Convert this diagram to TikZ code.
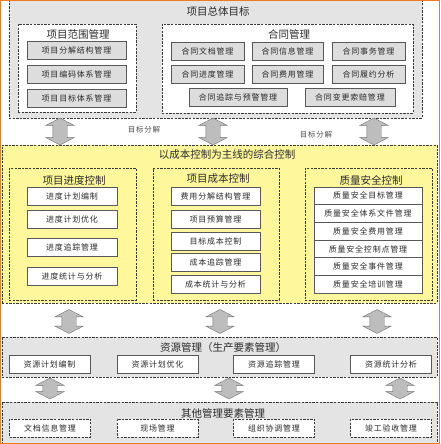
\documentclass[tikz,border=0pt]{standalone}
\usepackage{fontspec}
\setmainfont{Noto Sans CJK SC}
\newfontfamily\boxfont[LetterSpace=10]{Noto Sans CJK SC}
\usetikzlibrary{positioning,shapes.arrows}
\definecolor{bandgray}{HTML}{E4E4E4}
\definecolor{bandyellow}{HTML}{FFF79C}
\definecolor{boxgray}{HTML}{DDDDDD}
\definecolor{linedark}{HTML}{3A3A3A}
\definecolor{arrowgray}{HTML}{BDBDBD}
\definecolor{frameorange}{HTML}{F07A1E}
\definecolor{txtdark}{HTML}{2B2B2B}

\begin{document}
\begin{tikzpicture}[x=1pt, y=-1pt,
    every node/.style={text=txtdark, inner sep=0pt},
    band/.style={draw=linedark, line width=0.9pt, dash pattern=on 2.4pt off 1.2pt},
    grp/.style={band, fill=white},
    ttl/.style={font=\fontsize{10.5}{12}\selectfont},
    gbox/.style={draw=linedark!85, line width=0.9pt, fill=boxgray,
                 minimum height=18, font=\boxfont\fontsize{8}{10}\selectfont},
    wbox/.style={draw=linedark!85, line width=0.8pt, fill=white,
                 minimum height=18, font=\boxfont\fontsize{8}{10}\selectfont},
    dbox/.style={grp, minimum height=18, font=\boxfont\fontsize{8}{10}\selectfont},
    updown/.style={double arrow, rotate=90, fill=arrowgray, draw=black!55,
                   inner xsep=0pt, inner ysep=7pt, double arrow head extend=7pt,
                   double arrow tip angle=125, minimum width=28}
  ]
  \useasboundingbox (0,0) rectangle (440,444);

  % Bands
  \node[band, fill=bandgray, minimum width=413, minimum height=118] (goal) at (215.5,59) {};
  \node[band, fill=bandyellow, minimum width=435, minimum height=158] (ctrl) at (219.5,224) {};
  \node[band, fill=bandgray, minimum width=435, minimum height=40] (res) at (219.5,357) {};
  \node[band, fill=bandgray, minimum width=435, minimum height=44] (oth) at (219.5,424) {};

  \node[ttl] (goalt) at (218,12) {项目总体目标};
  \node[ttl] (ctrlt) at (227,155) {以成本控制为主线的综合控制};
  \node[ttl] (rest) at (223,348) {资源管理（生产要素管理）};
  \node[ttl] (otht) at (223,413) {其他管理要素管理};

  % Project scope
  \node[grp, minimum width=118, minimum height=88] (scp) at (77,68) {};
  \node[ttl] (scpt) at (78,34) {项目范围管理};
  \foreach \txt/\yy [count=\i] in {项目分解结构管理/50.5, 项目编码体系管理/74, 项目目标体系管理/98}{
    \node[gbox, minimum width=99] (scp\i) at (76.5,\yy) {\txt};
  }

  % Contract
  \node[grp, minimum width=251, minimum height=89] (ctr) at (287.5,68.5) {};
  \node[ttl] (ctrt) at (289,34) {合同管理};
  \foreach \txt/\xx/\yy/\ww [count=\i] in {
    合同文档管理/207.5/51/73, 合同信息管理/287.5/51/71, 合同事务管理/368.5/51/73,
    合同进度管理/207.5/74/73, 合同费用管理/287.5/74/71, 合同履约分析/368.5/74/73,
    合同追踪与预警管理/238/97.5/98, 合同变更索赔管理/350/97.5/90%
  }{
    \node[gbox, minimum width=\ww] (ctr\i) at (\xx,\yy) {\txt};
  }

  % Arrows goal <-> ctrl
  \foreach \xx [count=\i] in {60,213,374}{
    \node[updown, minimum height=27] (ga\i) at (\xx,131.5) {};
  }
  \node[font=\boxfont\fontsize{7.5}{9}\selectfont, text=black!70] (gl1) at (144,130) {目标分解};
  \node[font=\boxfont\fontsize{7.5}{9}\selectfont, text=black!70] (gl2) at (316,135) {目标分解};

  % Schedule / cost / quality
  \node[band, fill=bandyellow, minimum width=127, minimum height=132] (sch) at (72.5,234) {};
  \node[ttl] (scht) at (74,180) {项目进度控制};
  \foreach \txt/\yy [count=\i] in {进度计划编制/196, 进度计划优化/219, 进度追踪管理/247.5, 进度统计与分析/276}{
    \node[wbox, minimum width=90] (sch\i) at (72,\yy) {\txt};
  }

  \node[band, fill=bandyellow, minimum width=126, minimum height=132] (cst) at (216,234) {};
  \node[ttl] (cstt) at (218,179) {项目成本控制};
  \foreach \txt/\yy [count=\i] in {费用分解结构管理/196, 项目预算管理/219, 目标成本控制/241,
                                   成本追踪管理/262.5, 成本统计与分析/284}{
    \node[wbox, minimum width=89] (cst\i) at (215.5,\yy) {\txt};
  }

  \node[band, fill=bandyellow, minimum width=127, minimum height=132] (qs) at (368.5,234) {};
  \node[ttl] (qst) at (371,180) {质量安全控制};
  \foreach \txt [count=\i] in {质量安全目标管理, 质量安全体系文件管理, 质量安全费用管理,
                               质量安全控制点管理, 质量安全事件管理, 质量安全培训管理}{
    \node[wbox, minimum width=108, minimum height=17.7] (qs\i) at (368,178.15+17.7*\i) {\txt};
  }

  % Arrows ctrl <-> res
  \foreach \xx [count=\i] in {69,220,377}{
    \node[updown, minimum height=24] (ra\i) at (\xx,321.5) {};
  }

  % Resources
  \foreach \txt/\xx [count=\i] in {资源计划编制/49.5, 资源计划优化/157.5, 资源追踪管理/274, 资源统计分析/391}{
    \node[wbox, minimum width=81] (res\i) at (\xx,364) {\txt};
  }

  % Arrows res <-> oth
  \foreach \xx [count=\i] in {50,229,400}{
    \node[updown, minimum height=21] (oa\i) at (\xx,388.5) {};
  }

  % Other elements
  \foreach \txt/\xx [count=\i] in {文档信息管理/50, 现场管理/157.5, 组织协调管理/274, 竣工验收管理/391}{
    \node[dbox, minimum width=81] (oth\i) at (\xx,428) {\txt};
  }

  % Frame
  \draw[frameorange, line width=1.2pt] (0.6,0.6) rectangle (439.4,443.4);
\end{tikzpicture}
\end{document}
